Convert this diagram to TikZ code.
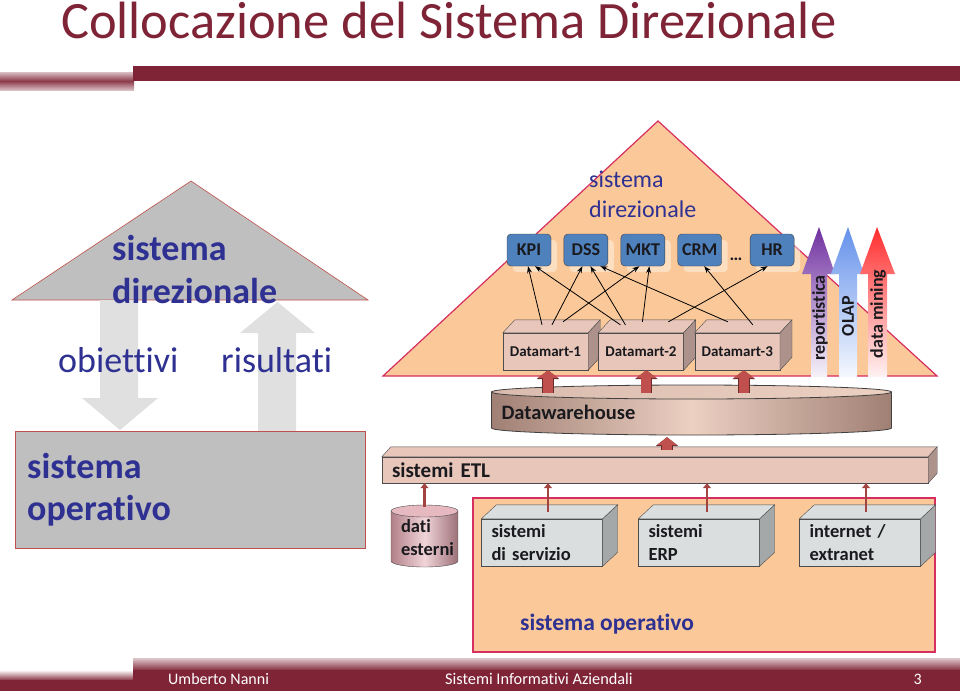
\documentclass[tikz,border=0pt]{standalone}
\usepackage{fontspec}
\setmainfont{Carlito}[Ligatures=NoCommon]
\usetikzlibrary{positioning,calc,arrows.meta,shadows}

\definecolor{titlered}{RGB}{127,36,54}
\definecolor{dirblue}{RGB}{46,49,146}
\definecolor{peach}{RGB}{251,201,153}
\definecolor{edgered}{RGB}{214,46,96}
\definecolor{roofgray}{RGB}{191,191,191}
\definecolor{flowgray}{RGB}{224,224,224}
\definecolor{kpiblue}{RGB}{79,129,189}
\definecolor{dmfill}{RGB}{232,198,186}
\definecolor{dmside}{RGB}{172,146,138}
\definecolor{flowred}{RGB}{192,80,77}
\definecolor{srcfill}{RGB}{218,222,222}
\definecolor{srcside}{RGB}{165,168,168}
\definecolor{dwdark}{RGB}{160,128,116}
\definecolor{dwlight}{RGB}{236,208,194}
\definecolor{extpink}{RGB}{222,160,170}
\definecolor{inkdark}{RGB}{26,26,30}
\definecolor{repPurple}{RGB}{112,48,160}
\definecolor{olapBlue}{RGB}{100,145,235}
\definecolor{minRed}{RGB}{255,45,45}

\newcommand{\fsz}[2]{\fontsize{#1}{#2}\selectfont}
% top and side faces of a box around a node
\newcommand{\boxfaces}[5]{%
  \filldraw[fill=#4, draw=black!70] (#1.north west) -- ++(#2,-#3)
    -- ($(#1.north east)+(#2,-#3)$) -- (#1.north east) -- cycle;
  \filldraw[fill=#5, draw=black!70] (#1.north east) -- ++(#2,-#3)
    -- ($(#1.south east)+(#2,-#3)$) -- (#1.south east) -- cycle;}

\begin{document}
\begin{tikzpicture}[x=1pt,y=-1pt,
  blue text/.style={text=dirblue, inner sep=0pt},
  roof/.style={fill=roofgray, draw=flowred, line width=0.6pt},
  kpibox/.style={draw=black!75, fill=kpiblue, rounded corners=4pt,
    minimum width=44pt, minimum height=32pt, inner sep=0pt, text=inkdark,
    font=\bfseries\fsz{18pt}{18pt},
    drop shadow={shadow xshift=6pt, shadow yshift=-6pt, fill=white, opacity=0.4}},
  dmart/.style={draw=black!70, fill=dmfill, minimum width=85pt, minimum height=37pt,
    inner sep=0pt, text=inkdark, font=\bfseries\fsz{15pt}{15pt}},
  srcbox/.style={draw=black!70, fill=srcfill, minimum width=121pt, minimum height=47pt,
    text width=101pt, inner xsep=10pt, inner ysep=0pt, align=left, text=inkdark,
    font=\bfseries\fsz{18.5pt}{23pt}},
  link/.style={draw=black, line width=0.8pt, -{Stealth[length=7pt,width=5pt]}},
  fatflow/.style={draw=flowred, line width=10pt, -{Triangle[width=20pt,length=8pt]},
    preaction={draw=flowred!55!black, line width=11.5pt, -{Triangle[width=22.5pt,length=9pt]}}},
  thinflow/.style={draw=flowred!85!black, line width=2.6pt, -{Triangle[width=8pt,length=5pt]}},
  upshade/.style={top color=#1, bottom color=#1!6!white, draw=none},
  vlabel/.style={rotate=90, inner sep=0pt, text=inkdark, font=\bfseries\fsz{18pt}{18pt}}
]
\fill[white] (0,0) rectangle (960,691);
\useasboundingbox (0,0) rectangle (960,691);

% title and bars
\node[anchor=base west, inner sep=0pt, text=titlered, font=\fsz{52.5pt}{60pt}] (title) at (61,38) {Collocazione del Sistema Direzionale};
\shade[top color=titlered!30, bottom color=titlered!30, middle color=titlered!90] (0,72) rectangle (134,90);
\fill[titlered] (133,66) rectangle (960,81);
\shade[top color=white, bottom color=titlered] (0,670) rectangle (134,681);
\fill[titlered] (0,680) rectangle (134,691);
\shade[top color=titlered!25, bottom color=titlered] (133,658) rectangle (960,671);
\fill[titlered] (133,670) rectangle (960,691);
\node[anchor=base west, inner sep=0pt, text=white, font=\fsz{16pt}{16pt}] (author) at (168,684) {Umberto Nanni};
\node[anchor=base west, inner sep=0pt, text=white, font=\fsz{16.3pt}{16pt}] (course) at (445,684) {Sistemi Informativi Aziendali};
\node[anchor=base east, inner sep=0pt, text=white, font=\fsz{16pt}{16pt}] (page) at (922,684) {3};

% left: the two systems
\draw[roof] (12,300) -- (191,181) -- (368,300) -- cycle;
\fill[flowgray] (100,300) -- (138,300) -- (138,398) -- (158,398) -- (120,430) -- (82,398) -- (100,398) -- cycle;
\fill[flowgray] (258,431) -- (258,333) -- (240,333) -- (277.5,302) -- (315,333) -- (296,333) -- (296,431) -- cycle;
\draw[roof] (15,431) rectangle (365,548);
\node[blue text, anchor=base west, align=left, font=\bfseries\fsz{36pt}{43pt}] (roofText) at (112,303) {sistema\\direzionale};
\node[blue text, anchor=base west, font=\fsz{36pt}{36pt}] (goals) at (58,372) {obiettivi};
\node[blue text, anchor=base west, font=\fsz{36pt}{36pt}] (results) at (221,372) {risultati};
\node[blue text, anchor=base west, align=left, font=\bfseries\fsz{36pt}{42pt}] (opText) at (27,520) {sistema\\operativo};

% right: pyramid and operational area
\filldraw[fill=peach, draw=edgered, line width=1.2pt] (383,376) -- (658,121) -- (937,376) -- cycle;
\node[blue text, anchor=base west, align=left, font=\fsz{24pt}{30pt}] (dirText) at (589,217) {sistema\\direzionale};
\filldraw[fill=peach, draw=edgered, line width=1.2pt] (473,498) rectangle (935,652);
\node[blue text, anchor=base west, font=\bfseries\fsz{23.5pt}{23.5pt}] (opLabel) at (520,630) {sistema operativo};

% analysis arrows
\shade[upshade=repPurple] (811,377) -- (811,274) -- (802,274) -- (819,227) -- (835,274) -- (827,274) -- (827,377) -- cycle;
\shade[upshade=olapBlue] (839,377) -- (839,274) -- (831,274) -- (848,227) -- (864,274) -- (857,274) -- (857,377) -- cycle;
\shade[upshade=minRed] (868,377) -- (868,274) -- (860,274) -- (877,227) -- (895,274) -- (887,274) -- (887,377) -- cycle;
\node[vlabel] (reporting) at (820,318) {reportistica};
\node[vlabel] (olap) at (848,316) {OLAP};
\node[vlabel] (mining) at (878,314) {data mining};

% applications
\node[kpibox] (kpi) at (529,250) {KPI};
\node[kpibox, right=12.5pt of kpi] (dss) {DSS};
\node[kpibox, right=12.5pt of dss] (mkt) {MKT};
\node[kpibox, right=12.5pt of mkt] (crm) {CRM};
\node[kpibox, right=28pt of crm] (hr) {HR};
\node[anchor=base, inner sep=0pt, text=inkdark, font=\bfseries\fsz{18pt}{18pt}] (more) at (736,260) {…};

% datamarts
\node[dmart] (dm1) at (545.5,351.5) {Datamart-1};
\boxfaces{dm1}{12}{13}{dmfill}{dmside}
\node[dmart, right=10pt of dm1] (dm2) {Datamart-2};
\boxfaces{dm2}{12}{13}{dmfill}{dmside}
\node[dmart, right=11pt of dm2] (dm3) {Datamart-3};
\boxfaces{dm3}{12}{13}{dmfill}{dmside}

\draw[link] ([shift={(-3.5,-8)}]dm1.north) -- ([xshift=-1pt]kpi.south);
\draw[link] ([shift={(6.5,-8)}]dm1.north) -- ([xshift=-3.5pt]dss.south);
\draw[link] ([shift={(17.5,-11)}]dm1.north) -- ([xshift=-3.5pt]mkt.south);
\draw[link] ([shift={(-20.5,-8)}]dm2.north) -- ([xshift=6pt]kpi.south);
\draw[link] ([shift={(-15.5,-8)}]dm2.north) -- ([xshift=4.5pt]dss.south);
\draw[link] ([shift={(1.5,-11)}]dm2.north) -- ([xshift=6.5pt]mkt.south);
\draw[link] ([shift={(27.5,-11)}]dm2.north) -- ([xshift=-4.5pt]hr.south);
\draw[link] ([shift={(-9.5,-11)}]dm3.north) -- ([xshift=14.5pt]dss.south);
\draw[link] ([shift={(15.5,-8)}]dm3.north) -- ([xshift=4.5pt]crm.south);

% datawarehouse
\shadedraw[left color=dwdark, right color=dwdark, middle color=dwlight, draw=black!75, line width=0.8pt]
  (491.5,392) -- (491.5,428) arc[start angle=180, end angle=360, x radius=200pt, y radius=7pt] -- (891.5,392) -- cycle;
\shadedraw[left color=dwlight!75!dwdark, right color=dwlight, draw=black!75, line width=0.8pt]
  (691.5,392) ellipse[x radius=200pt, y radius=7pt];
\node[minimum width=400pt, minimum height=50pt, text width=380pt, inner xsep=10pt, inner ysep=0pt,
  align=left, text=inkdark, font=\bfseries\fsz{20.5pt}{20.5pt}] (dw) at (691.5,412) {Datawarehouse};
\draw[fatflow] ($(dm1.south |- dw.north)+(2.5,6)$) -- ([xshift=2.5pt]dm1.south);
\draw[fatflow] ($(dm2.south |- dw.north)+(5.5,6)$) -- ([xshift=5.5pt]dm2.south);
\draw[fatflow] ($(dm3.south |- dw.north)+(6.5,6)$) -- ([xshift=6.5pt]dm3.south);

% ETL layer
\node[draw=black!70, fill=dmfill, minimum width=546pt, minimum height=26pt, text width=526pt,
  inner xsep=10pt, inner ysep=0pt, align=left, text=inkdark, font=\bfseries\fsz{21pt}{21pt}] (etl) at (655,470) {sistemi ETL};
\boxfaces{etl}{9}{10}{dmfill}{dmside}
\draw[fatflow] ($(etl.north)+(12,-7)$) -- ([xshift=-24.5pt]dw.south);

% sources
\shadedraw[left color=extpink!80!black, right color=extpink!70!black, middle color=extpink!45!white, draw=black!70]
  (391,511) -- (391,561) arc[start angle=180, end angle=360, x radius=33.5pt, y radius=6pt] -- (458,511) -- cycle;
\filldraw[fill=extpink!75!white, draw=black!70] (424.5,511) ellipse[x radius=33.5pt, y radius=6pt];
\node[minimum width=67pt, minimum height=62pt, text width=47pt, inner xsep=10pt, inner ysep=0pt,
  align=left, text=inkdark, font=\bfseries\fsz{18.5pt}{23pt}] (ext) at (424.5,538) {dati\\esterni};
\node[srcbox] (srv) at (542,542.5) {sistemi\\di servizio};
\boxfaces{srv}{15}{14}{srcfill}{srcside}
\node[srcbox] (erp) at (699,542.5) {sistemi\\ERP};
\boxfaces{erp}{15}{14}{srcfill}{srcside}
\node[srcbox] (web) at (860,542.5) {internet /\\extranet};
\boxfaces{web}{15}{14}{srcfill}{srcside}

\draw[thinflow] (ext.north) -- (ext.north |- etl.south);
\draw[thinflow] ($(srv.north)+(6,-7)$) -- ($(srv.north |- etl.south)+(6,0)$);
\draw[thinflow] ($(erp.north)+(8,-7)$) -- ($(erp.north |- etl.south)+(8,0)$);
\draw[thinflow] ($(web.north)+(6,-7)$) -- ($(web.north |- etl.south)+(6,0)$);
\end{tikzpicture}
\end{document}
